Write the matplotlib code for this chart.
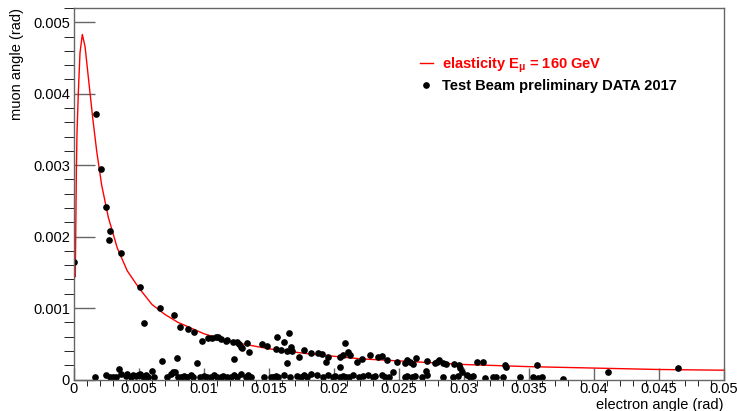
import matplotlib
matplotlib.use("Agg")
import matplotlib.pyplot as plt
from matplotlib.ticker import MultipleLocator, FuncFormatter

plt.rcParams['font.family'] = ['Liberation Sans', 'DejaVu Sans']
plt.rcParams['mathtext.fontset'] = 'custom'
plt.rcParams['mathtext.rm'] = 'Liberation Sans:bold'
plt.rcParams['mathtext.it'] = 'Liberation Sans:bold'
plt.rcParams['mathtext.bf'] = 'Liberation Sans:bold'

# elastic curve (electron angle, muon angle)
curve_e = [0.0001, 0.00013, 0.00018, 0.00023, 0.00033, 0.00046, 0.00064,
           0.00085, 0.00115, 0.00144, 0.00175, 0.00213, 0.00264, 0.00333,
           0.0041, 0.005, 0.006, 0.007, 0.008, 0.01, 0.012, 0.015, 0.018,
           0.022, 0.026, 0.03, 0.035, 0.04, 0.045, 0.05]
curve_mu = [0.00144, 0.00200, 0.00290, 0.00345, 0.00400, 0.00457, 0.00483,
            0.00466, 0.00415, 0.00366, 0.00319, 0.00272, 0.00227, 0.00184,
            0.00152, 0.00128, 0.00105, 0.00091, 0.00080, 0.00064, 0.00053,
            0.00043, 0.00036, 0.00029, 0.00025, 0.00021, 0.00018, 0.00016,
            0.00014, 0.00013]

# test beam events near the curve
data_e = [0.0, 0.0017, 0.0021, 0.00246, 0.00277, 0.00269, 0.00362, 0.00508,
          0.00538, 0.00662, 0.00769, 0.00815, 0.00877, 0.00923, 0.00985,
          0.01031, 0.01064, 0.0109, 0.01108, 0.01128, 0.01167, 0.01179,
          0.01226, 0.01256, 0.01272, 0.01282, 0.01295, 0.01333, 0.01346,
          0.01449, 0.01487, 0.01551, 0.01564, 0.0159, 0.01615, 0.01641,
          0.01654, 0.01667, 0.01679, 0.01731, 0.0177, 0.01826,
          0.0188, 0.01905, 0.01938, 0.01956, 0.02046, 0.02046, 0.02072,
          0.02085, 0.0211, 0.02123, 0.02179, 0.02213, 0.02277, 0.02341,
          0.02367, 0.02405, 0.02487, 0.02546, 0.02559, 0.02585, 0.02605,
          0.02631, 0.02708, 0.02713, 0.02777, 0.0279, 0.0281, 0.02841,
          0.02862, 0.0292, 0.02964, 0.02969, 0.03097, 0.03144, 0.03315,
          0.03323, 0.03559, 0.0411, 0.04649]
data_mu = [0.00164, 0.00371, 0.00294, 0.00241, 0.00208, 0.00195, 0.00177,
           0.00129, 0.00079, 0.00100, 0.00090, 0.00074, 0.00070, 0.00066,
           0.00054, 0.00058, 0.00058, 0.00059, 0.00059, 0.00057, 0.00054,
           0.00055, 0.00053, 0.00052, 0.00049, 0.00046, 0.00044, 0.00051,
           0.00039, 0.00049, 0.00047, 0.00042, 0.00059, 0.00041, 0.00052,
           0.00040, 0.00065, 0.00046, 0.00040, 0.00032, 0.00041, 0.00037,
           0.00037, 0.00036, 0.00025, 0.00032, 0.00032, 0.00018, 0.00034,
           0.00051, 0.00039, 0.00034, 0.00024, 0.00028, 0.00034, 0.00031,
           0.00033, 0.00027, 0.00025, 0.00023, 0.00027, 0.00025, 0.00021,
           0.00030, 0.00012, 0.00026, 0.00023, 0.00025, 0.00027, 0.00023,
           0.00022, 0.00022, 0.00020, 0.00016, 0.00024, 0.00024, 0.00020,
           0.00018, 0.00020, 0.00011, 0.000165]

# events close to zero muon angle
low_e = [0.00159, 0.00244, 0.00277, 0.00303, 0.0032, 0.00349, 0.00362,
         0.00397, 0.0041, 0.00436, 0.00456, 0.00474, 0.00492, 0.00508,
         0.00526, 0.00538, 0.00551, 0.00569, 0.00598, 0.00615, 0.00675,
         0.00718, 0.00744, 0.00764, 0.00777, 0.0079, 0.008, 0.0082, 0.00846,
         0.00872, 0.00897, 0.00918, 0.00944, 0.00969, 0.01, 0.01026, 0.01051,
         0.01077, 0.01103, 0.01128, 0.01149, 0.01174, 0.01205, 0.01233,
         0.01231, 0.01256, 0.01282, 0.0132, 0.01338, 0.01359, 0.01462,
         0.01513, 0.01533, 0.01551, 0.01569, 0.01615, 0.0164, 0.01662,
         0.01718, 0.01744, 0.01769, 0.01795, 0.01826, 0.01872, 0.01918,
         0.01956, 0.0199, 0.0201, 0.02046, 0.02072, 0.02092, 0.02118,
         0.02149, 0.02195, 0.02226, 0.02264, 0.02303, 0.02315, 0.02367,
         0.02392, 0.02426, 0.02456, 0.02546, 0.02564, 0.02597, 0.02623,
         0.02674, 0.02713, 0.02841, 0.02918, 0.02956, 0.02982, 0.0302,
         0.03046, 0.03072, 0.03162, 0.03226, 0.03246, 0.03298, 0.03431,
         0.03533, 0.03572, 0.03597, 0.03764]
low_mu = [0.00004, 0.00006, 0.00003, 0.00004, 0.00003, 0.00015, 0.00007,
          0.00005, 0.00008, 0.00004, 0.00006, 0.00005, 0.00006, 0.00007,
          0.00005, 0.00004, 0.00006, 0.00003, 0.00012, 0.00003, 0.00026,
          0.00003, 0.00007, 0.00011, 0.00010, 0.00030, 0.00004, 0.00003,
          0.00005, 0.00004, 0.00006, 0.00003, 0.00023, 0.00004, 0.00005,
          0.00003, 0.00004, 0.00006, 0.00003, 0.00004, 0.00005, 0.00003,
          0.00004, 0.00028, 0.00006, 0.00004, 0.00007, 0.00003, 0.00006,
          0.00004, 0.00003, 0.00004, 0.00003, 0.00005, 0.00003, 0.00006,
          0.00023, 0.00004, 0.00005, 0.00003, 0.00006, 0.00004, 0.00007,
          0.00006, 0.00004, 0.00006, 0.00003, 0.00005, 0.00004, 0.00005,
          0.00004, 0.00003, 0.00006, 0.00004, 0.00005, 0.00006, 0.00003,
          0.00005, 0.00006, 0.00003, 0.00004, 0.00011, 0.00003, 0.00005,
          0.00004, 0.00005, 0.00004, 0.00006, 0.00004, 0.00003, 0.00005,
          0.00011, 0.00006, 0.00004, 0.00005, 0.00002, 0.00004, 0.00003,
          0.00003, 0.00003, 0.00004, 0.00002, 0.00004, 0.00001]

fig = plt.figure(figsize=(7.37, 4.11), dpi=100)
ax = fig.add_axes([74 / 737, 1 - 379.5 / 411, 650 / 737, 371.5 / 411])

ax.plot(curve_e, curve_mu, color='red', lw=1.0, label=r'elasticity E$_{\mu}$ = 160 GeV')
ax.plot(data_e + low_e, data_mu + low_mu, 'o', color='black', ms=3.8, ls='none',
        label='Test Beam preliminary DATA 2017')

ax.set_xlim(0, 0.05)
ax.set_ylim(0, 0.0052)

ax.xaxis.set_major_locator(MultipleLocator(0.005))
ax.xaxis.set_minor_locator(MultipleLocator(0.001))
ax.yaxis.set_major_locator(MultipleLocator(0.001))
ax.yaxis.set_minor_locator(MultipleLocator(0.0002))
fmt = FuncFormatter(lambda v, p: '0' if abs(v) < 1e-12 else ('%g' % round(v, 4)))
ax.xaxis.set_major_formatter(fmt)
ax.yaxis.set_major_formatter(fmt)

frame = '#666666'
for s in ax.spines.values():
    s.set_color(frame)
    s.set_linewidth(1.0)
ax.tick_params(direction='in', top=False, right=False, colors=frame,
               labelcolor='black', labelsize=10.5, width=1.0)
ax.tick_params(axis='y', which='major', length=15, pad=3)
ax.tick_params(axis='y', which='minor', length=7.5)
ax.tick_params(axis='x', which='major', length=9, pad=2)
ax.tick_params(axis='x', which='minor', length=4.5)

fig.text(17 / 737, 1 - 8 / 411, 'muon angle (rad)', rotation=90,
         ha='center', va='top', fontsize=10.5)
fig.text(724 / 737, 1 - 405 / 411, 'electron angle (rad)',
         ha='right', va='center', fontsize=10.5)

leg = ax.legend(loc='upper left', bbox_to_anchor=(0.523, 0.888), frameon=False,
                handlelength=0.9, handletextpad=0.6, labelspacing=0.3,
                prop={'weight': 'bold', 'size': 10.5}, labelcolor=['red', 'black'],
                borderaxespad=0)

fig.savefig('out.png', dpi=100)
